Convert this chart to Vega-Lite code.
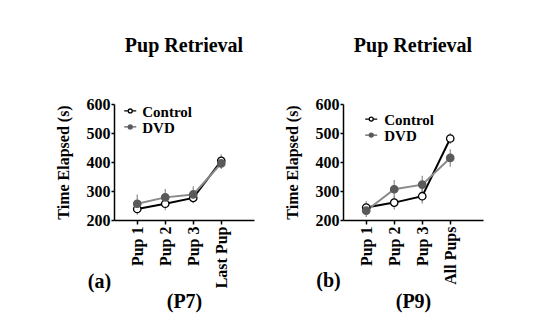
{
  "$schema": "https://vega.github.io/schema/vega-lite/v6.json",
  "background": "white",
  "padding": {"left": 55, "top": 36, "right": 5, "bottom": 5},
  "spacing": 30,
  "config": {
    "view": {"stroke": null},
    "font": "Liberation Serif",
    "axis": {
      "labelFont": "Liberation Serif", "labelFontWeight": "bold", "labelFontSize": 16, "labelColor": "black",
      "titleFont": "Liberation Serif", "titleFontWeight": "bold", "titleFontSize": 16, "titleColor": "black",
      "domainColor": "black", "domainWidth": 1.5, "tickColor": "black", "tickWidth": 1.5, "grid": false
    },
    "text": {"font": "Liberation Serif", "fontWeight": "bold", "fontSize": 15, "color": "black"},
    "title": {"font": "Liberation Serif", "fontWeight": "bold", "fontSize": 20, "color": "black"}
  },
  "datasets": {
    "d": [
      {"panel": "a", "cat": "Pup 1", "series": "Control", "mean": 238, "lo": 218, "hi": 258},
      {"panel": "a", "cat": "Pup 2", "series": "Control", "mean": 256, "lo": 234, "hi": 278},
      {"panel": "a", "cat": "Pup 3", "series": "Control", "mean": 276, "lo": 258, "hi": 294},
      {"panel": "a", "cat": "Last Pup", "series": "Control", "mean": 404, "lo": 382, "hi": 426},
      {"panel": "a", "cat": "Pup 1", "series": "DVD", "mean": 256, "lo": 224, "hi": 288},
      {"panel": "a", "cat": "Pup 2", "series": "DVD", "mean": 278, "lo": 249, "hi": 307},
      {"panel": "a", "cat": "Pup 3", "series": "DVD", "mean": 288, "lo": 260, "hi": 316},
      {"panel": "a", "cat": "Last Pup", "series": "DVD", "mean": 395, "lo": 376, "hi": 414},
      {"panel": "b", "cat": "Pup 1", "series": "Control", "mean": 243, "lo": 221, "hi": 265},
      {"panel": "b", "cat": "Pup 2", "series": "Control", "mean": 260, "lo": 236, "hi": 284},
      {"panel": "b", "cat": "Pup 3", "series": "Control", "mean": 282, "lo": 257, "hi": 307},
      {"panel": "b", "cat": "All Pups", "series": "Control", "mean": 481, "lo": 462, "hi": 500},
      {"panel": "b", "cat": "Pup 1", "series": "DVD", "mean": 232, "lo": 210, "hi": 254},
      {"panel": "b", "cat": "Pup 2", "series": "DVD", "mean": 306, "lo": 274, "hi": 338},
      {"panel": "b", "cat": "Pup 3", "series": "DVD", "mean": 322, "lo": 291, "hi": 353},
      {"panel": "b", "cat": "All Pups", "series": "DVD", "mean": 414, "lo": 384, "hi": 444}
    ]
  },
  "hconcat": [
    {
      "width": 140, "height": 116,
      "title": {"text": "Pup Retrieval", "offset": 40},
      "data": {"name": "d"},
      "transform": [{"filter": "datum.panel === 'a'"}],
      "resolve": {"axis": {"x": "independent"}},
      "encoding": {
        "x": {"field": "cat", "type": "ordinal", "sort": ["Pup 1", "Pup 2", "Pup 3", "Last Pup"],
          "scale": {"type": "point", "padding": 1.055, "align": 0.415},
          "axis": {"title": "(P7)", "labelAngle": -90, "labelPadding": 2, "tickSize": 4, "titleFontSize": 20, "titleY": 87, "titleBaseline": "alphabetic"}},
        "y": {"field": "mean", "type": "quantitative", "scale": {"domain": [200, 600], "nice": false, "zero": false},
          "axis": {"title": "Time Elapsed (s)", "values": [200, 300, 400, 500, 600], "labelOverlap": false, "tickSize": 3, "labelPadding": 1, "titlePadding": 15}}
      },
      "layer": [
        {
          "mark": {"type": "rule", "color": "#8c8c8c", "strokeWidth": 1.2},
          "encoding": {"y": {"field": "lo", "type": "quantitative"}, "y2": {"field": "hi"}}
        },
        {
          "mark": {"type": "line", "strokeWidth": 2},
          "encoding": {
            "x": {"field": "cat", "type": "ordinal", "sort": ["Pup 1", "Pup 2", "Pup 3", "Last Pup"], "axis": null},
            "color": {"field": "series", "type": "nominal", "scale": {"domain": ["Control", "DVD"], "range": ["#000000", "#8a8a8a"]}, "legend": null}
          }
        },
        {
          "mark": {"type": "circle", "size": 55, "strokeWidth": 1.3, "opacity": 1},
          "encoding": {
            "x": {"field": "cat", "type": "ordinal", "sort": ["Pup 1", "Pup 2", "Pup 3", "Last Pup"],
              "axis": {"orient": "bottom", "title": "(a)", "labels": false, "ticks": false, "domain": false, "titleFontSize": 20, "titleX": -15, "titleY": 67, "titleBaseline": "alphabetic", "titleAnchor": "start", "titleAlign": "center"}},
            "fill": {"field": "series", "type": "nominal", "scale": {"domain": ["Control", "DVD"], "range": ["#ffffff", "#5a5a5a"]}, "legend": null},
            "stroke": {"field": "series", "type": "nominal", "scale": {"domain": ["Control", "DVD"], "range": ["#000000", "#5a5a5a"]}, "legend": null}
          }
        },
        {
          "transform": [{"filter": "datum.cat === 'Pup 1' && datum.series === 'Control'"}],
          "encoding": {
            "x": {"datum": "Pup 1", "type": "ordinal", "axis": null},
            "y": {"datum": 576, "type": "quantitative"}
          },
          "layer": [
            {
              "mark": {"type": "point", "shape": "M-1,0H-0.33M0.33,0H1M0.33,0A0.33,0.33,0,1,1,-0.33,0A0.33,0.33,0,1,1,0.33,0Z", "size": 144, "filled": true, "strokeWidth": 1.3, "opacity": 1, "xOffset": -7},
              "encoding": {
                "fill": {"field": "series", "type": "nominal", "legend": null},
                "stroke": {"field": "series", "type": "nominal", "legend": null}
              }
            },
            {
              "mark": {"type": "text", "align": "left", "baseline": "middle", "xOffset": -7, "dx": 12, "dy": 1},
              "encoding": {"text": {"field": "series"}}
            }
          ]
        },
        {
          "transform": [{"filter": "datum.cat === 'Pup 1' && datum.series === 'DVD'"}],
          "encoding": {
            "x": {"datum": "Pup 1", "type": "ordinal", "axis": null},
            "y": {"datum": 521, "type": "quantitative"}
          },
          "layer": [
            {
              "mark": {"type": "point", "shape": "M-1,0H-0.33M0.33,0H1M0.33,0A0.33,0.33,0,1,1,-0.33,0A0.33,0.33,0,1,1,0.33,0Z", "size": 144, "filled": true, "strokeWidth": 1.3, "opacity": 1, "xOffset": -7},
              "encoding": {
                "fill": {"field": "series", "type": "nominal", "legend": null},
                "stroke": {"field": "series", "type": "nominal", "legend": null}
              }
            },
            {
              "mark": {"type": "text", "align": "left", "baseline": "middle", "xOffset": -7, "dx": 12, "dy": 1},
              "encoding": {"text": {"field": "series"}}
            }
          ]
        }
      ]
    },
    {
      "width": 140, "height": 116,
      "title": {"text": "Pup Retrieval", "offset": 40},
      "data": {"name": "d"},
      "transform": [{"filter": "datum.panel === 'b'"}],
      "resolve": {"axis": {"x": "independent"}},
      "encoding": {
        "x": {"field": "cat", "type": "ordinal", "sort": ["Pup 1", "Pup 2", "Pup 3", "All Pups"],
          "scale": {"type": "point", "padding": 1.055, "align": 0.415},
          "axis": {"title": "(P9)", "labelAngle": -90, "labelPadding": 2, "tickSize": 4, "titleFontSize": 20, "titleY": 87, "titleBaseline": "alphabetic"}},
        "y": {"field": "mean", "type": "quantitative", "scale": {"domain": [200, 600], "nice": false, "zero": false},
          "axis": {"title": "Time Elapsed (s)", "values": [200, 300, 400, 500, 600], "labelOverlap": false, "tickSize": 3, "labelPadding": 1, "titlePadding": 15}}
      },
      "layer": [
        {
          "mark": {"type": "rule", "color": "#8c8c8c", "strokeWidth": 1.2},
          "encoding": {"y": {"field": "lo", "type": "quantitative"}, "y2": {"field": "hi"}}
        },
        {
          "mark": {"type": "line", "strokeWidth": 2},
          "encoding": {
            "x": {"field": "cat", "type": "ordinal", "sort": ["Pup 1", "Pup 2", "Pup 3", "All Pups"], "axis": null},
            "color": {"field": "series", "type": "nominal", "scale": {"domain": ["Control", "DVD"], "range": ["#000000", "#8a8a8a"]}, "legend": null}
          }
        },
        {
          "mark": {"type": "circle", "size": 55, "strokeWidth": 1.3, "opacity": 1},
          "encoding": {
            "x": {"field": "cat", "type": "ordinal", "sort": ["Pup 1", "Pup 2", "Pup 3", "All Pups"],
              "axis": {"orient": "bottom", "title": "(b)", "labels": false, "ticks": false, "domain": false, "titleFontSize": 20, "titleX": -15, "titleY": 66, "titleBaseline": "alphabetic", "titleAnchor": "start", "titleAlign": "center"}},
            "fill": {"field": "series", "type": "nominal", "scale": {"domain": ["Control", "DVD"], "range": ["#ffffff", "#5a5a5a"]}, "legend": null},
            "stroke": {"field": "series", "type": "nominal", "scale": {"domain": ["Control", "DVD"], "range": ["#000000", "#5a5a5a"]}, "legend": null}
          }
        },
        {
          "transform": [{"filter": "datum.cat === 'Pup 1' && datum.series === 'Control'"}],
          "encoding": {
            "x": {"datum": "Pup 1", "type": "ordinal", "axis": null},
            "y": {"datum": 548, "type": "quantitative"}
          },
          "layer": [
            {
              "mark": {"type": "point", "shape": "M-1,0H-0.33M0.33,0H1M0.33,0A0.33,0.33,0,1,1,-0.33,0A0.33,0.33,0,1,1,0.33,0Z", "size": 144, "filled": true, "strokeWidth": 1.3, "opacity": 1, "xOffset": 5},
              "encoding": {
                "fill": {"field": "series", "type": "nominal", "legend": null},
                "stroke": {"field": "series", "type": "nominal", "legend": null}
              }
            },
            {
              "mark": {"type": "text", "align": "left", "baseline": "middle", "xOffset": 5, "dx": 13, "dy": 1},
              "encoding": {"text": {"field": "series"}}
            }
          ]
        },
        {
          "transform": [{"filter": "datum.cat === 'Pup 1' && datum.series === 'DVD'"}],
          "encoding": {
            "x": {"datum": "Pup 1", "type": "ordinal", "axis": null},
            "y": {"datum": 493, "type": "quantitative"}
          },
          "layer": [
            {
              "mark": {"type": "point", "shape": "M-1,0H-0.33M0.33,0H1M0.33,0A0.33,0.33,0,1,1,-0.33,0A0.33,0.33,0,1,1,0.33,0Z", "size": 144, "filled": true, "strokeWidth": 1.3, "opacity": 1, "xOffset": 5},
              "encoding": {
                "fill": {"field": "series", "type": "nominal", "legend": null},
                "stroke": {"field": "series", "type": "nominal", "legend": null}
              }
            },
            {
              "mark": {"type": "text", "align": "left", "baseline": "middle", "xOffset": 5, "dx": 13, "dy": 1},
              "encoding": {"text": {"field": "series"}}
            }
          ]
        }
      ]
    }
  ]
}
